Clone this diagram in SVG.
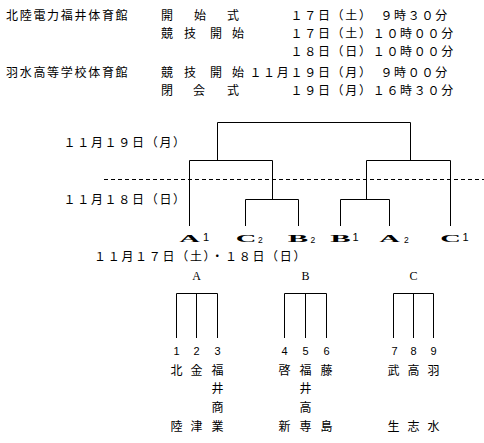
<svg xmlns="http://www.w3.org/2000/svg" width="484" height="443" viewBox="0 0 484 443">
<style>
.j{font-family:"Noto Sans CJK JP","Noto Sans CJK SC",sans-serif;font-size:12px;fill:#000;letter-spacing:1.7px}
.k{font-family:"Noto Sans CJK JP","Noto Sans CJK SC",sans-serif;font-size:12px;fill:#000;text-anchor:middle}
.n{font-family:"Liberation Sans",Arial,sans-serif;font-size:11px;fill:#000;text-anchor:middle}
.g{font-family:"Liberation Serif","Times New Roman",serif;font-size:12px;fill:#000;text-anchor:middle}
.big{font-family:"Liberation Serif","Times New Roman",serif;font-size:11px;font-weight:bold;fill:#000;text-anchor:middle}
.d1{font-family:"Liberation Sans",Arial,sans-serif;font-size:11px;fill:#000}
.d2{font-family:"Liberation Sans",Arial,sans-serif;font-size:8.5px;fill:#000}
.ln{fill:none;stroke:#000;stroke-width:1}
.dash{fill:none;stroke:#000;stroke-width:1;stroke-dasharray:4 3}
</style>
<g id="schedule">
<text class="j" x="6" y="19.5">北陸電力福井体育館</text>
<text class="j" x="161" y="19.5">開</text><text class="j" x="194" y="19.5">始</text><text class="j" x="227" y="19.5">式</text>
<text class="j" x="290.5" y="19.5">１７日（土）　９時３０分</text>
<text class="j" x="161" y="37.8">競</text><text class="j" x="184" y="37.8">技</text><text class="j" x="210" y="37.8">開</text><text class="j" x="232" y="37.8">始</text>
<text class="j" x="290.5" y="37.8">１７日（土）１０時００分</text>
<text class="j" x="290.5" y="56.2">１８日（日）１０時００分</text>
<text class="j" x="6" y="77.2">羽水高等学校体育館</text>
<text class="j" x="161" y="77.2">競</text><text class="j" x="184" y="77.2">技</text><text class="j" x="210" y="77.2">開</text><text class="j" x="232" y="77.2">始</text>
<text class="j" x="249.4" y="77.2">１１月１９日（月）　９時００分</text>
<text class="j" x="161" y="95.2">閉</text><text class="j" x="193" y="95.2">会</text><text class="j" x="227" y="95.2">式</text>
<text class="j" x="290.5" y="95.2">１９日（月）１６時３０分</text>
</g>
<g id="date-labels">
<text class="j" x="63.5" y="146.8">１１月１９日（月）</text>
<text class="j" x="63.5" y="203.8">１１月１８日（日）</text>
<text class="j" x="94" y="261.2">１１月１７日（土）・１８日（日）</text>
</g>
<g id="connectors">
<path class="dash" d="M104 179.5H484"/>
<path class="ln" d="M217.5 160V122.5H410.5V160"/>
<path class="ln" d="M189.5 226V160.5H272.5V199"/>
<path class="ln" d="M366.5 199V160.5H450.5V226"/>
<path class="ln" d="M245.5 226V199.5H298.5V226"/>
<path class="ln" d="M340.5 226V199.5H389.5V226"/>
<path class="ln" d="M176.5 338V293.5H217.5V338M196.5 293.5V338"/>
<path class="ln" d="M284.5 338V293.5H326.5V338M305.5 293.5V338"/>
<path class="ln" d="M393.5 338V293.5H433.5V338M413.5 293.5V338"/>
</g>
<g id="seed-A1"><text class="big" transform="translate(189.5 242) scale(2.6 1)">A</text><text class="d1" x="203" y="241">1</text></g>
<g id="seed-C2"><text class="big" transform="translate(246 242) scale(2.6 1)">C</text><text class="d2" x="258" y="243">2</text></g>
<g id="seed-B2"><text class="big" transform="translate(298 242) scale(2.8 1)">B</text><text class="d2" x="310.5" y="243">2</text></g>
<g id="seed-B1"><text class="big" transform="translate(340.5 242) scale(2.8 1)">B</text><text class="d1" x="352.5" y="241">1</text></g>
<g id="seed-A2"><text class="big" transform="translate(389.5 242) scale(2.6 1)">A</text><text class="d2" x="404" y="243">2</text></g>
<g id="seed-C1"><text class="big" transform="translate(450.5 242) scale(2.6 1)">C</text><text class="d1" x="462.5" y="241">1</text></g>
<g id="group-A">
<text class="g" x="196.5" y="279.5">A</text>
<text class="n" x="176.5" y="354.5">1</text><text class="n" x="196.5" y="354.5">2</text><text class="n" x="217.5" y="354.5">3</text>
<text class="k" x="176.5" y="374.5">北</text><text class="k" x="176.5" y="430.5">陸</text>
<text class="k" x="196.5" y="374.5">金</text><text class="k" x="196.5" y="430.5">津</text>
<text class="k" x="217.5" y="374.5">福</text><text class="k" x="217.5" y="393">井</text><text class="k" x="217.5" y="411.5">商</text><text class="k" x="217.5" y="430.5">業</text>
</g>
<g id="group-B">
<text class="g" x="305.5" y="279.5">B</text>
<text class="n" x="284.5" y="354.5">4</text><text class="n" x="305.5" y="354.5">5</text><text class="n" x="326.5" y="354.5">6</text>
<text class="k" x="284.5" y="374.5">啓</text><text class="k" x="284.5" y="430.5">新</text>
<text class="k" x="305.5" y="374.5">福</text><text class="k" x="305.5" y="393">井</text><text class="k" x="305.5" y="411.5">高</text><text class="k" x="305.5" y="430.5">専</text>
<text class="k" x="326.5" y="374.5">藤</text><text class="k" x="326.5" y="430.5">島</text>
</g>
<g id="group-C">
<text class="g" x="413.5" y="279.5">C</text>
<text class="n" x="394.5" y="354.5">7</text><text class="n" x="413.5" y="354.5">8</text><text class="n" x="433.5" y="354.5">9</text>
<text class="k" x="393.5" y="374.5">武</text><text class="k" x="393.5" y="430.5">生</text>
<text class="k" x="413.5" y="374.5">高</text><text class="k" x="413.5" y="430.5">志</text>
<text class="k" x="433.5" y="374.5">羽</text><text class="k" x="433.5" y="430.5">水</text>
</g>
</svg>
